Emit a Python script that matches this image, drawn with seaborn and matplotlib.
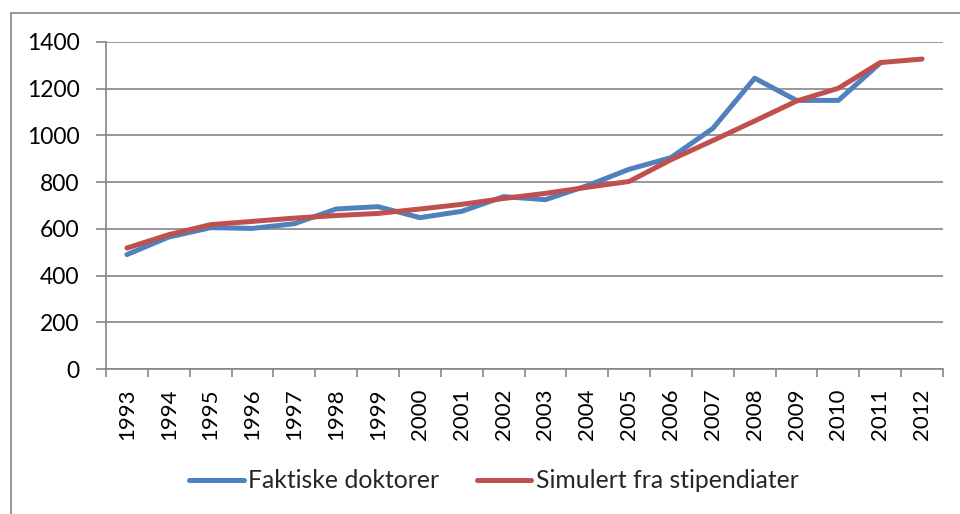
import numpy as np
import pandas as pd
import matplotlib
matplotlib.use("Agg")
import matplotlib.pyplot as plt
from matplotlib.lines import Line2D
import seaborn as sns

years = list(range(1993, 2013))
faktiske = [490, 565, 605, 602, 622, 685, 695, 648, 675, 738, 725, 785, 855, 905, 1030, 1245, 1150, 1150, 1310, np.nan]
simulert = [518, 575, 618, 632, 646, 657, 666, 685, 705, 730, 752, 778, 803, 896, 978, 1062, 1147, 1202, 1312, 1327]
series_names = ["Faktiske doktorer", "Simulert fra stipendiater"]
colors = ["#4F81BD", "#C0504D"]
yticks = [0, 200, 400, 600, 800, 1000, 1200, 1400]

df = pd.DataFrame({
    "year": years * 2,
    "value": faktiske + simulert,
    "series": [series_names[0]] * len(years) + [series_names[1]] * len(years),
})

sns.set_theme(style="white")
plt.rcParams["font.family"] = ["Lato", "DejaVu Sans"]

fig = plt.figure(figsize=(9.6, 5.14), dpi=100)
ax = fig.add_axes([106 / 960, 1 - 369 / 514, (943 - 106) / 960, (369 - 42) / 514])

sns.lineplot(data=df, x="year", y="value", hue="series", palette=colors,
             linewidth=3.6, ax=ax, legend=False, solid_capstyle="round")

ax.set_xlim(years[0] - 0.5, years[-1] + 0.5)
ax.set_ylim(0, 1400)
ax.set_yticks(yticks)
ax.set_yticklabels([str(t) for t in yticks], fontsize=16.5, color="black")
ax.set_xticks([y - 0.5 for y in years] + [years[-1] + 0.5])
ax.set_xticklabels([])
ax.set_xticks(years, minor=True)
ax.set_xticklabels([str(y) for y in years], minor=True, rotation=90, fontsize=16, color="black")
ax.tick_params(axis="x", which="major", length=6, width=1.2, color="#868686", direction="out", bottom=True)
ax.tick_params(axis="x", which="minor", length=0, pad=14, bottom=True)
ax.tick_params(axis="y", which="major", length=7, width=1.2, color="#868686", direction="out", left=True, pad=12)
ax.set_xlabel("")
ax.set_ylabel("")

ax.yaxis.grid(True, color="#868686", linewidth=1.2)
ax.xaxis.grid(False)
ax.set_axisbelow(True)
for side in ["top", "right"]:
    ax.spines[side].set_visible(False)
for side in ["left", "bottom"]:
    ax.spines[side].set_color("#868686")
    ax.spines[side].set_linewidth(1.2)

handles = [Line2D([0], [0], color=c, linewidth=3.6, solid_capstyle="round") for c in colors]
fig.legend(handles, series_names, loc="center", bbox_to_anchor=(494 / 960, 1 - 481 / 514),
           ncol=2, frameon=False, fontsize=17.8, handlelength=2.2, handletextpad=0.2,
           columnspacing=1.5, borderpad=0, borderaxespad=0)

# outer chart frame
fig.add_artist(Line2D([10.5 / 960, 10.5 / 960], [0, 1 - 13 / 514], transform=fig.transFigure,
                      color="#868686", linewidth=1.2))
fig.add_artist(Line2D([10.5 / 960, 1], [1 - 13 / 514, 1 - 13 / 514], transform=fig.transFigure,
                      color="#868686", linewidth=1.2))

fig.savefig("out.png", dpi=100)
